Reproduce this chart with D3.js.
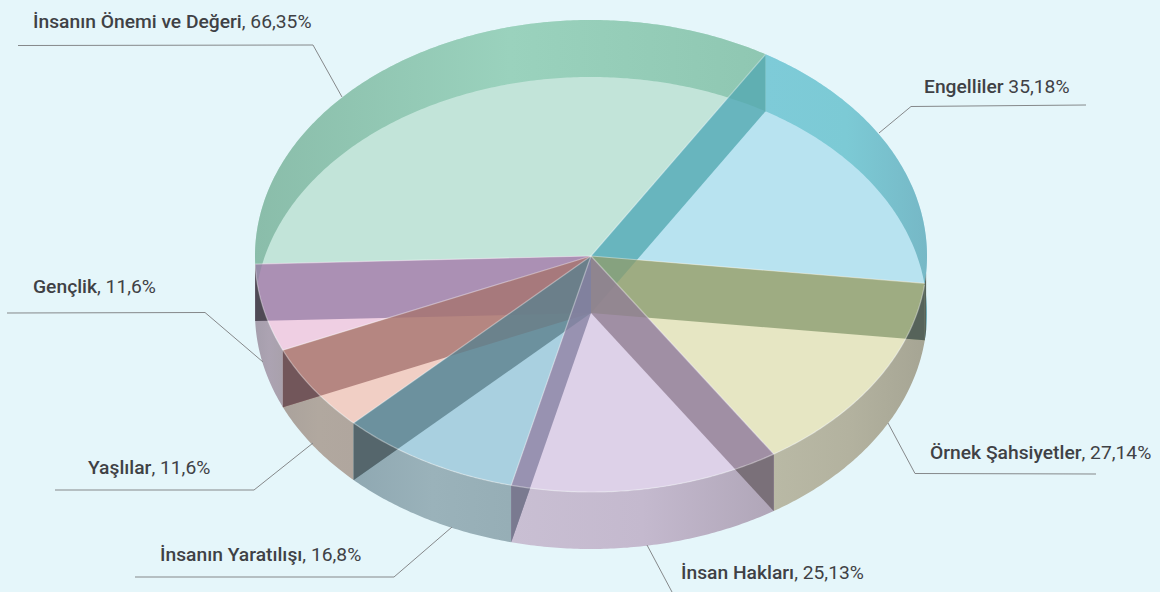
<!DOCTYPE html>
<html><head><meta charset="utf-8">
<script src="https://cdn.jsdelivr.net/npm/d3@7"></script>
<style>html,body{margin:0;padding:0;background:#e5f6fa}svg{display:block}
text{font-family:Roboto,sans-serif;font-size:19.25px;fill:#3f4145}</style></head><body>
<svg id="c" width="1160" height="592"></svg>
<script>
// data
const categories = ["İnsanın Önemi ve Değeri","Engelliler","Örnek Şahsiyetler","İnsan Hakları","İnsanın Yaratılışı","Yaşlılar","Gençlik"];
const values = [66.35,35.18,27.14,25.13,16.8,11.6,11.6];
const valueLabels = ["66,35%","35,18%","27,14%","25,13%","16,8%","11,6%","11,6%"];
const separators = [", "," ",", ",", ",", ",", ",", "];
// styles
const faceColors = ["#c2e4d9","#b8e3f0","#e6e6c3","#ddd1e8","#a9d0e0","#f1cfc5","#efcfe3"];
const bandColors = [["#8abdaa","#9ad2bd","#8fc7b2"],["#7ecbd8","#7ccad5","#76b8c6"],["#b9b9a5","#b3b29f","#a6a594"],["#c9bfd3","#c4b9ce","#b0a6b8"],["#8fa8b2","#9ab2ba","#96aeb6"],["#aaa29c","#b1a89f","#b0a69e"],["#a59eac","#aca3b2","#a9a1ac"]];
// wall colour per wall: start wall of slices on the right half, end wall on the left half
const wallColors = {Engelliler:"#54a9b1","Örnek Şahsiyetler":"#8c9d72","İnsan Hakları|s":"#917e92","İnsan Hakları|e":"#8782a2","İnsanın Yaratılışı":"#5c818d","Yaşlılar":"#a6736f","Gençlik":"#9a7fa7"};
const darkColors = {Engelliler:"#54a9b1","Örnek Şahsiyetler":"#56635a","İnsan Hakları|s":"#7a7079","İnsan Hakları|e":"#7a7a90","İnsanın Yaratılışı":"#55666c","Yaşlılar":"#72565a","Gençlik":"#4f4a55"};
// label layout: text start x, baseline y, leader polyline
const labelLayout = [
 {x:33,y:28,line:[[18,45.5],[313,45],[342,97]]},
 {x:924,y:93,line:[[879,133],[911,106.5],[1086,105]]},
 {x:930,y:459,line:[[888,423],[915,473.5],[1096,474]]},
 {x:681,y:579,line:[[647,545],[672,592]]},
 {x:160,y:561,line:[[452,527],[394,577],[135,577]]},
 {x:88,y:474,line:[[313,443],[254,490],[55,490]]},
 {x:33,y:293,line:[[263,362],[205,312.5],[7,313]]}
];
const cx=591, cyTop=256, depth=57, rx=336, ry=236;
const startDeg=268.04;

const svg=d3.select("#c");
const sx=d3.scaleLinear().domain([-1,1]).range([cx-rx,cx+rx]);
const syA=d3.scaleLinear().domain([-1,1]).range([cyTop-ry,cyTop+ry]);
const syB=d3.scaleLinear().domain([-1,1]).range([cyTop+depth-ry,cyTop+depth+ry]);
const ptA=a=>[sx(Math.sin(a)),syA(-Math.cos(a))];
const ptB=a=>[sx(Math.sin(a)),syB(-Math.cos(a))];
const pie=d3.pie().sort(null).startAngle(startDeg*Math.PI/180).endAngle((startDeg+360)*Math.PI/180);
const arcs=pie(values).map((d,i)=>({...d,i,name:categories[i]}));
const line=d3.line();
const sweep=(a0,a1,f)=>{const n=Math.max(2,Math.ceil(Math.abs(a1-a0)/0.01));return d3.range(n+1).map(k=>f(a0+(a1-a0)*k/n));};
const norm=a=>{const t=2*Math.PI;return ((a%t)+t)%t;};
const rad=d=>d*Math.PI/180;

const defs=svg.append("defs");
arcs.forEach(d=>{
  const xs=sweep(d.startAngle,d.endAngle,ptA).map(p=>p[0]);
  const g=defs.append("linearGradient").attr("id","band"+d.i).attr("gradientUnits","userSpaceOnUse")
    .attr("x1",d3.min(xs)).attr("x2",d3.max(xs)).attr("y1",0).attr("y2",0);
  bandColors[d.i].forEach((c,k)=>g.append("stop").attr("offset",k/2).attr("stop-color",c));
});
// clip: everything outside the upper ellipse
defs.append("clipPath").attr("id","outside").append("path").attr("clip-rule","evenodd")
  .attr("d",line(sweep(0,2*Math.PI,ptA))+"Z M0 0H1160V592H0Z");

const facePath=d=>line([[cx,cyTop],...sweep(d.startAngle,d.endAngle,ptA)])+"Z";
const ribbon=(a0,a1)=>line([...sweep(a0,a1,ptA),...sweep(a0,a1,ptB).reverse()])+"Z";
// 1. faces
svg.append("g").selectAll("path").data(arcs).join("path").attr("d",facePath).attr("fill",d=>faceColors[d.i]);
// 2. outer ribbons
svg.append("g").selectAll("path").data(arcs).join("path")
  .attr("d",d=>ribbon(d.startAngle,d.endAngle))
  .attr("fill",d=>`url(#band${d.i})`);
// 3. radial walls facing the viewer
const walls=[];
arcs.forEach(d=>{
  if(norm(d.startAngle)<Math.PI) walls.push({a:d.startAngle,k:d.name==="İnsan Hakları"?d.name+"|s":d.name,i:d.i});
  if(norm(d.endAngle)>Math.PI) walls.push({a:d.endAngle,k:d.name==="İnsan Hakları"?d.name+"|e":d.name,i:d.i});
});
const order=["Gençlik","Yaşlılar","İnsanın Yaratılışı","İnsan Hakları|e","Engelliler","Örnek Şahsiyetler","İnsan Hakları|s"];
walls.sort((a,b)=>order.indexOf(a.k)-order.indexOf(b.k));
const wallPath=w=>line([[cx,cyTop],ptA(w.a),ptB(w.a),[cx,cyTop+depth]])+"Z";
svg.append("g").selectAll("path").data(walls).join("path").attr("d",wallPath)
  .attr("fill",w=>wallColors[w.k]).attr("fill-opacity",0.8);
svg.append("g").attr("clip-path","url(#outside)").selectAll("path").data(walls.filter(w=>w.k!=="Engelliler")).join("path").attr("d",wallPath)
  .attr("fill",w=>darkColors[w.k]);
// sliver of the rear ribbon seen through the wall at the right edge
const rightEnd=arcs[1].endAngle;
svg.append("path").attr("d",ribbon(rightEnd-rad(2.5),rightEnd)).attr("fill",darkColors[categories[2]]);
// 4. slice outlines: radial edges and the front rim only
const outline=svg.append("g").attr("fill","none").attr("stroke","#fff").attr("stroke-opacity",0.38).attr("stroke-width",1.2);
outline.selectAll("path.r").data(arcs).join("path").attr("class","r").attr("d",d=>line([[cx,cyTop],ptA(d.startAngle)]));
outline.append("path").attr("d",line(sweep(rad(97),rad(268),ptA)));
// 5. leaders and labels
svg.append("g").selectAll("path").data(labelLayout).join("path").attr("d",d=>line(d.line))
  .attr("fill","none").attr("stroke","#85888a").attr("stroke-width",1);
const t=svg.append("g").selectAll("text").data(arcs).join("text")
  .attr("x",d=>labelLayout[d.i].x).attr("y",d=>labelLayout[d.i].y);
t.append("tspan").attr("font-weight",500).text(d=>d.name);
t.append("tspan").text(d=>separators[d.i]+valueLabels[d.i]);
</script></body></html>
